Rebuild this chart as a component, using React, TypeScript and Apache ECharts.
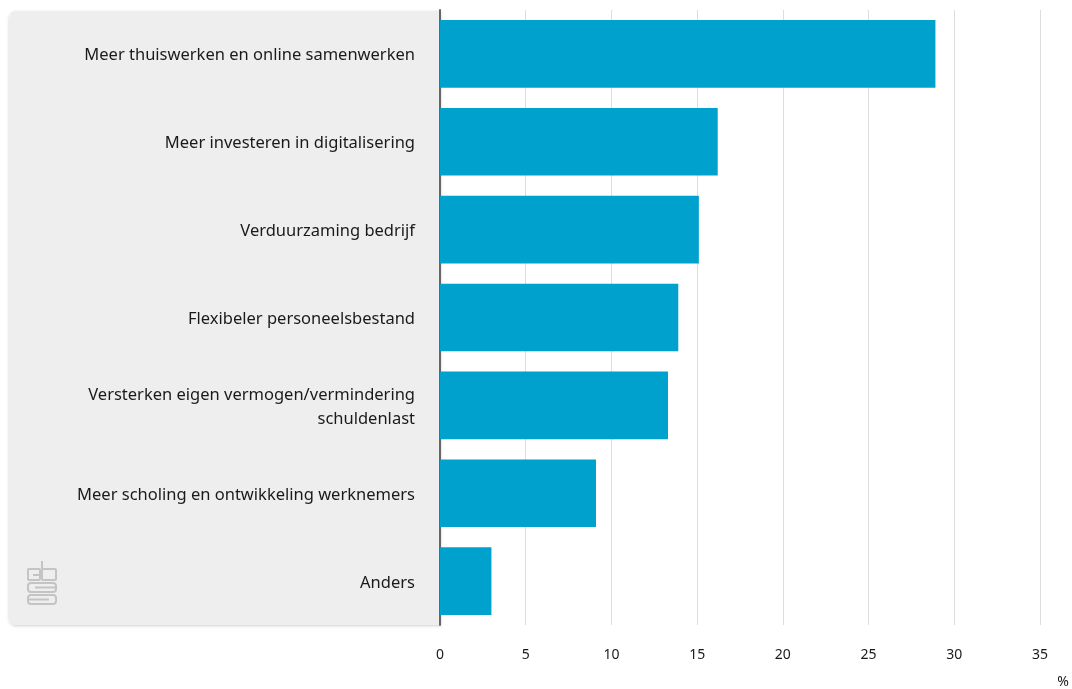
import React, { useEffect, useRef } from "react";
import * as echarts from "echarts";

const categories = [
  "Meer thuiswerken en online samenwerken",
  "Meer investeren in digitalisering",
  "Verduurzaming bedrijf",
  "Flexibeler personeelsbestand",
  "Versterken eigen vermogen/vermindering\nschuldenlast",
  "Meer scholing en ontwikkeling werknemers",
  "Anders",
];
const values = [28.9, 16.2, 15.1, 13.9, 13.3, 9.1, 3.0];
const unitLabel = "%";

export default function App() {
  const ref = useRef<HTMLDivElement>(null);
  useEffect(() => {
    if (!ref.current) return;
    const chart = echarts.init(ref.current, null, { renderer: "svg" });
    const logoColor = "#c4c4c4";
    chart.setOption({
      animation: false,
      textStyle: { fontFamily: "Noto Sans" },
      grid: { left: 440, right: 32, top: 10, bottom: 64, containLabel: false },
      graphic: [
        {
          type: "rect",
          z: -10,
          silent: true,
          shape: { x: 9, y: 11, width: 432, height: 614, r: [7, 0, 0, 7] },
          style: { fill: "#eeeeee", shadowBlur: 3, shadowColor: "rgba(0,0,0,0.18)", shadowOffsetY: 1 },
        },
        {
          type: "group",
          x: 27,
          y: 560,
          z: 10,
          silent: true,
          children: [
            { type: "rect", shape: { x: 1, y: 9, width: 12, height: 11, r: 1 }, style: { fill: "none", stroke: logoColor, lineWidth: 2 } },
            { type: "rect", shape: { x: 15, y: 9, width: 14, height: 11, r: 1 }, style: { fill: "none", stroke: logoColor, lineWidth: 2 } },
            { type: "line", shape: { x1: 15, y1: 1, x2: 15, y2: 9 }, style: { stroke: logoColor, lineWidth: 2 } },
            { type: "line", shape: { x1: 6, y1: 15, x2: 13, y2: 15 }, style: { stroke: logoColor, lineWidth: 2 } },
            { type: "rect", shape: { x: 1, y: 23, width: 28, height: 9, r: 3 }, style: { fill: "none", stroke: logoColor, lineWidth: 2 } },
            { type: "rect", shape: { x: 1, y: 35, width: 28, height: 9, r: 3 }, style: { fill: "none", stroke: logoColor, lineWidth: 2 } },
            { type: "line", shape: { x1: 8, y1: 27.5, x2: 29, y2: 27.5 }, style: { stroke: logoColor, lineWidth: 2 } },
            { type: "line", shape: { x1: 1, y1: 39.5, x2: 22, y2: 39.5 }, style: { stroke: logoColor, lineWidth: 2 } },
          ],
        },
        {
          type: "text",
          x: 1063,
          y: 680,
          style: { text: unitLabel, fill: "#1a1a1a", font: "14px 'Noto Sans'", textAlign: "center", textVerticalAlign: "middle" },
        },
      ],
      xAxis: {
        type: "value",
        min: 0,
        max: 35,
        interval: 5,
        axisLine: { show: false },
        axisTick: { show: false },
        axisLabel: { color: "#1a1a1a", fontSize: 14, margin: 21 },
        splitLine: { show: true, lineStyle: { color: "#dddddd", width: 1 } },
      },
      yAxis: {
        type: "category",
        data: categories,
        inverse: true,
        axisLine: { show: true, lineStyle: { color: "#666666", width: 2 } },
        axisTick: { show: false },
        axisLabel: { color: "#1a1a1a", fontSize: 16.5, margin: 25, lineHeight: 24, align: "right" },
      },
      series: [
        {
          type: "bar",
          data: values,
          barCategoryGap: "23%",
          itemStyle: { color: "#00a1cd" },
          z: 3,
        },
      ],
    });
    return () => chart.dispose();
  }, []);
  return <div ref={ref} style={{ position: "fixed", left: 0, top: 0, width: 1072, height: 689 }} />;
}
